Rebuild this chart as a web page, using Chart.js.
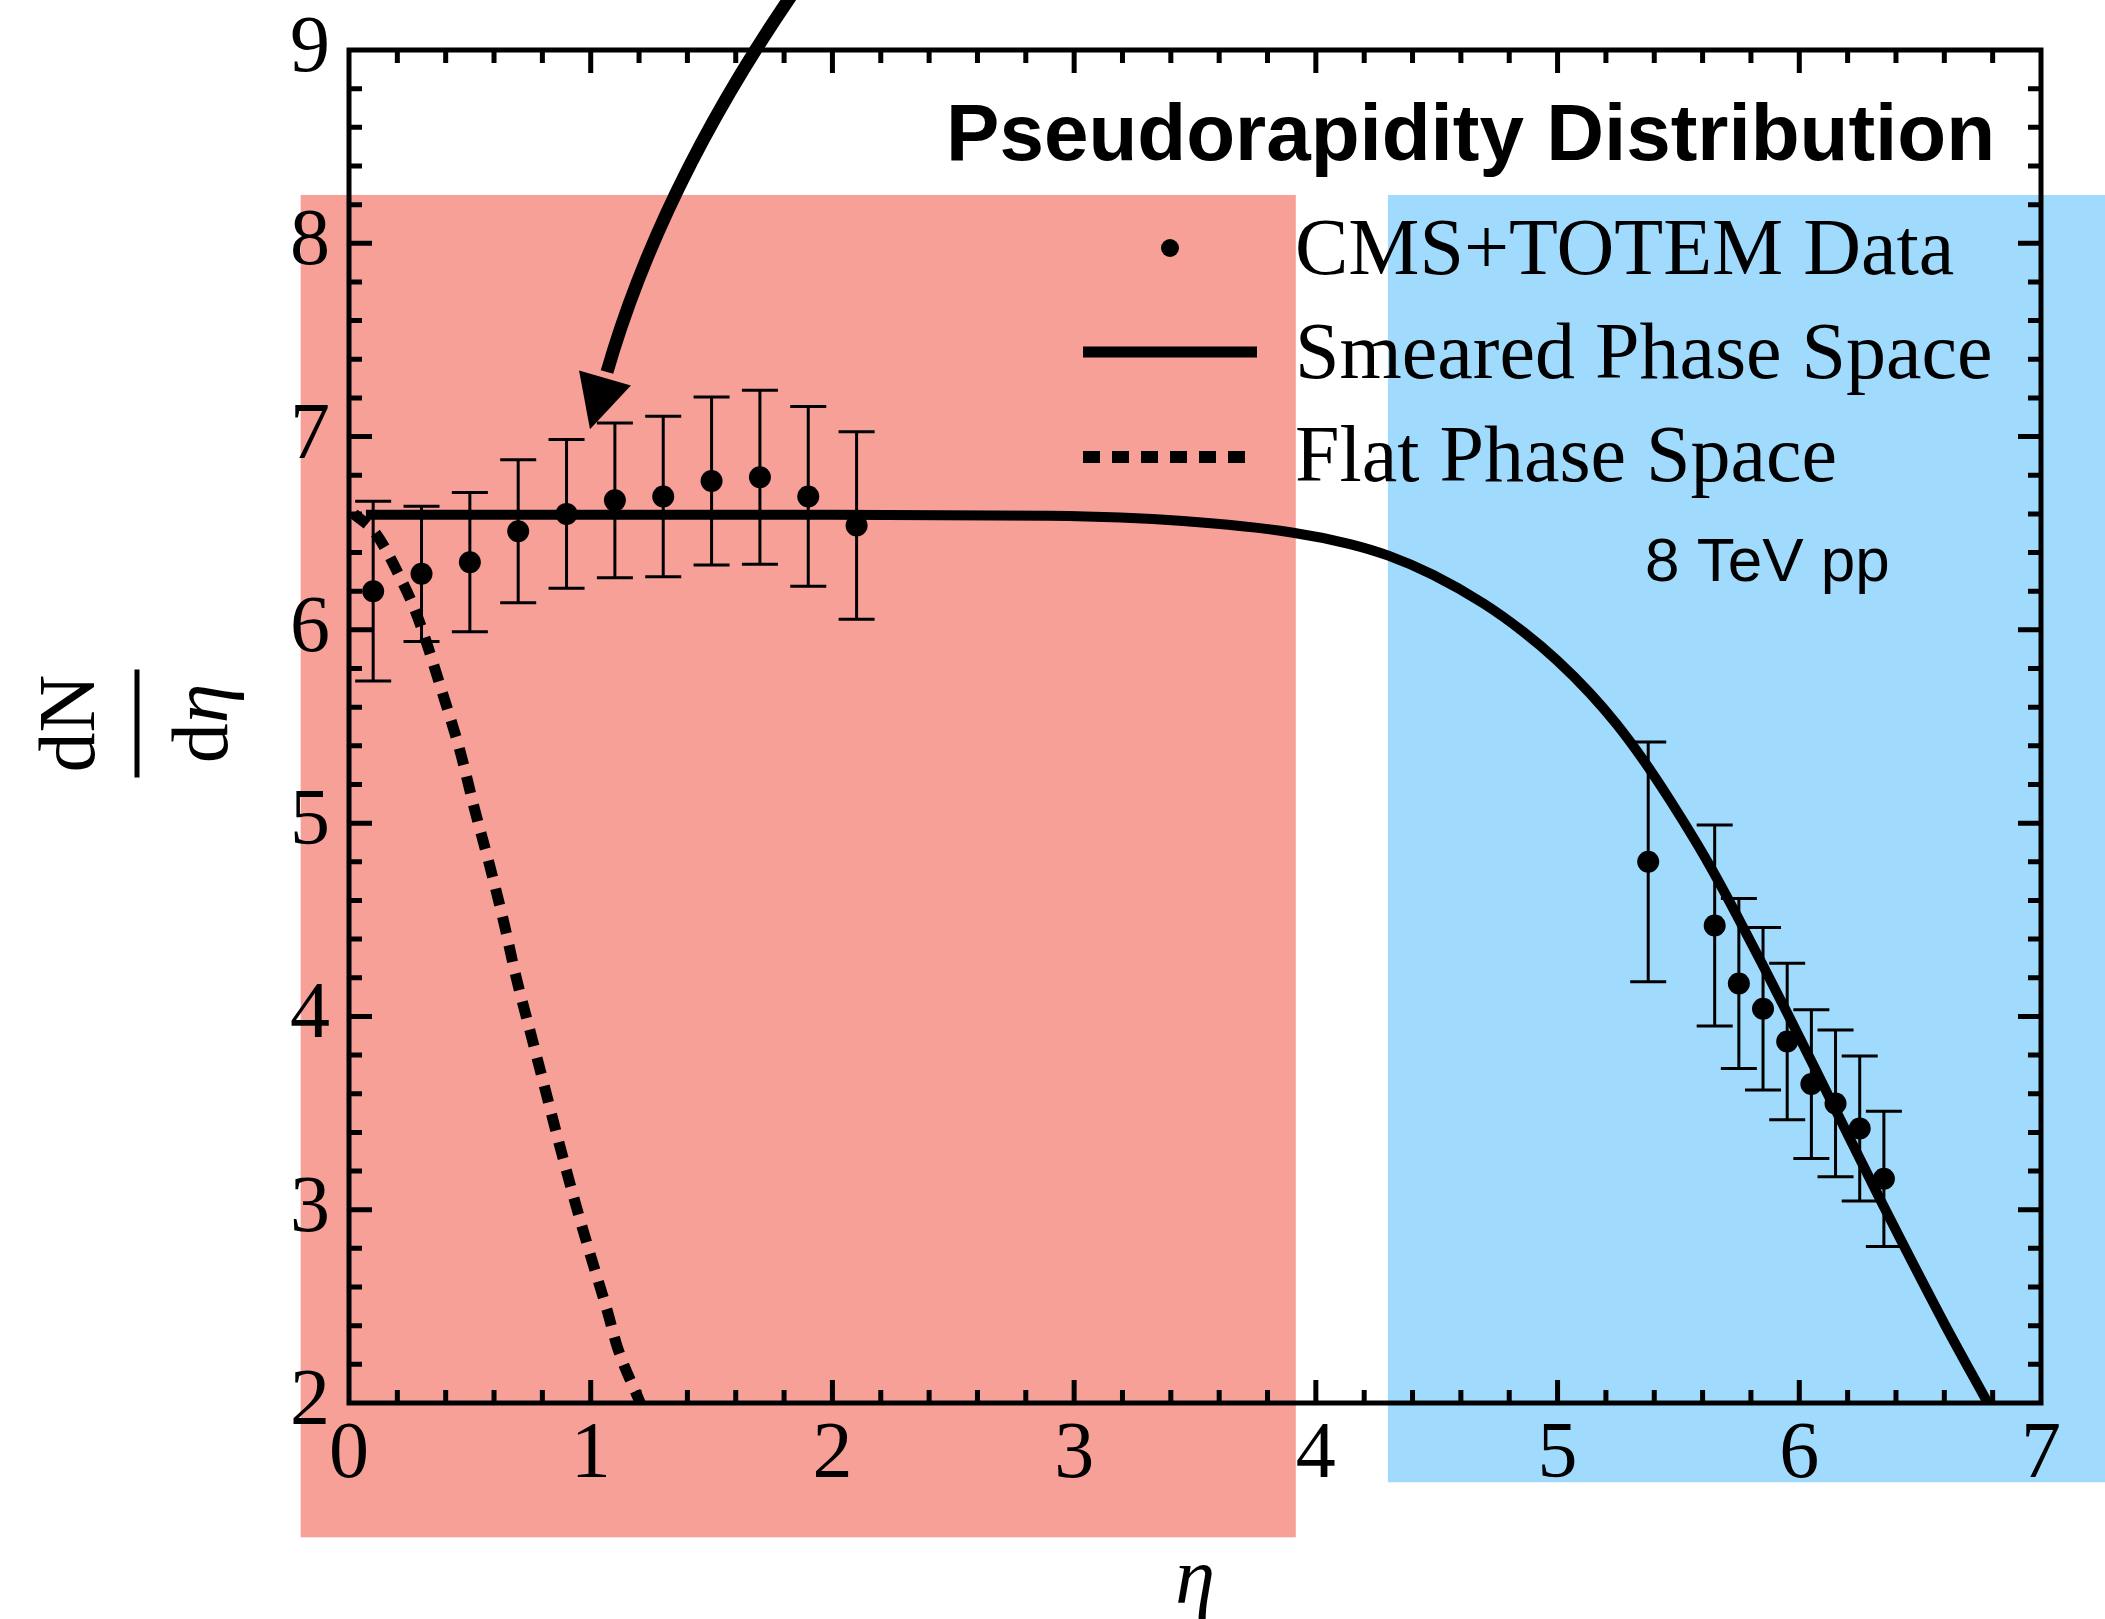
<!DOCTYPE html>
<html>
<head>
<meta charset="utf-8">
<script src="https://cdn.jsdelivr.net/npm/chart.js@4.4.0/dist/chart.umd.min.js"></script>
<style>
    html, body { margin: 0; padding: 0; background: #fff; }
    canvas { display: block; }
</style>
</head>
<body>
<canvas id="eta" width="2105" height="1619"></canvas>
<script>
// CMS+TOTEM data points (eta, dN/deta, error)
var etaData    = [0.1, 0.3, 0.5, 0.7, 0.9, 1.1, 1.3, 1.5, 1.7, 1.9, 2.1,
                  5.375, 5.65, 5.75, 5.85, 5.95, 6.05, 6.15, 6.25, 6.35];
var dndetaData = [6.20, 6.29, 6.35, 6.51, 6.60, 6.67, 6.69, 6.77, 6.79, 6.69, 6.54,
                  4.80, 4.47, 4.17, 4.04, 3.87, 3.65, 3.55, 3.42, 3.16];
var errData    = [0.465, 0.35, 0.36, 0.37, 0.385, 0.40, 0.415, 0.435, 0.45, 0.465, 0.485,
                  0.62, 0.52, 0.44, 0.42, 0.405, 0.385, 0.38, 0.375, 0.35];

// smeared phase space curve
var smearedEta = [0.07, 1, 2, 2.9, 3.45, 3.9, 4.141, 4.30, 4.486, 4.693, 4.858, 4.996, 5.134,
                  5.245, 5.355, 5.465, 5.575, 5.645, 5.74, 5.845, 5.95, 6.06, 6.155, 6.25,
                  6.34, 6.44, 6.6, 6.78];
var smearedVal = [6.595, 6.595, 6.595, 6.59, 6.563, 6.504, 6.444, 6.384, 6.284, 6.137, 5.99, 5.844, 5.672,
                  5.511, 5.326, 5.119, 4.897, 4.746, 4.527, 4.275, 4.018, 3.743, 3.504, 3.265,
                  3.04, 2.795, 2.411, 2.0];

// flat phase space curve
var flatEta = [0.02, 0.11, 0.21, 0.28, 0.39, 0.46, 0.52, 0.58, 0.64, 0.69, 0.75,
               0.81, 0.87, 0.935, 1.0, 1.07, 1.11, 1.205];
var flatVal = [6.60, 6.50, 6.275, 6.08, 5.66, 5.37, 5.07, 4.79, 4.49, 4.21, 3.92,
               3.63, 3.34, 3.04, 2.76, 2.47, 2.29, 2.0];

var xTicks = [0, 1, 2, 3, 4, 5, 6, 7];
var yTicks = [2, 3, 4, 5, 6, 7, 8, 9];

var serif = '"Liberation Serif", "Times New Roman", serif';
var sans = '"Liberation Sans", Arial, sans-serif';

// shaded eta ranges (in axis units)
var bands = [
    {from: -0.2, to: 3.917, top: 8.25, bottom: 1.305, color: 'rgb(247,160,152)'},
    {from: 4.298, to: 7.4, top: 8.25, bottom: 1.59, color: 'rgb(160,219,253)'}
];

function pairs(xs, ys) {
    return xs.map(function (v, i) { return {x: v, y: ys[i]}; });
}

var decor = {
    id: 'decor',
    beforeDraw: function (chart) {
        var ctx = chart.ctx, sx = chart.scales.x, sy = chart.scales.y;
        ctx.save();
        ctx.fillStyle = '#fff';
        ctx.fillRect(0, 0, chart.width, chart.height);
        bands.forEach(function (b) {
            var l = sx.getPixelForValue(b.from), r = sx.getPixelForValue(b.to);
            var t = sy.getPixelForValue(b.top), btm = sy.getPixelForValue(b.bottom);
            ctx.fillStyle = b.color;
            ctx.fillRect(l, t, r - l, btm - t);
        });
        ctx.restore();
    },
    afterDatasetsDraw: function (chart) {
        var ctx = chart.ctx, sx = chart.scales.x, sy = chart.scales.y;
        var a = chart.chartArea;
        ctx.save();
        ctx.strokeStyle = '#000';
        ctx.fillStyle = '#000';

        /*error bars*/
        ctx.lineWidth = 3;
        etaData.forEach(function (e, i) {
            var px = sx.getPixelForValue(e);
            var hi = sy.getPixelForValue(dndetaData[i] + errData[i]);
            var lo = sy.getPixelForValue(dndetaData[i] - errData[i]);
            ctx.beginPath();
            ctx.moveTo(px, hi); ctx.lineTo(px, lo);
            ctx.moveTo(px - 18, hi); ctx.lineTo(px + 18, hi);
            ctx.moveTo(px - 18, lo); ctx.lineTo(px + 18, lo);
            ctx.stroke();
        });

        /*frame*/
        ctx.lineWidth = 5;
        ctx.strokeRect(a.left, a.top, a.right - a.left, a.bottom - a.top);

        /*inward ticks*/
        ctx.lineWidth = 5;
        ctx.beginPath();
        sx.ticks.forEach(function (t) {
            if (t.value <= sx.min || t.value >= sx.max) return;
            var len = xTicks.indexOf(t.value) >= 0 ? 23 : 13;
            var p = sx.getPixelForValue(t.value);
            ctx.moveTo(p, a.bottom); ctx.lineTo(p, a.bottom - len);
            ctx.moveTo(p, a.top); ctx.lineTo(p, a.top + len);
        });
        sy.ticks.forEach(function (t) {
            if (t.value <= sy.min || t.value >= sy.max) return;
            var len = yTicks.indexOf(t.value) >= 0 ? 23 : 13;
            var p = sy.getPixelForValue(t.value);
            ctx.moveTo(a.left, p); ctx.lineTo(a.left + len, p);
            ctx.moveTo(a.right, p); ctx.lineTo(a.right - len, p);
        });
        ctx.stroke();

        /*title and labels*/
        ctx.textBaseline = 'alphabetic';
        ctx.font = 'bold 80px ' + sans;
        ctx.textAlign = 'right';
        ctx.fillText('Pseudorapidity Distribution', a.right - 46, 160);

        ctx.font = '62px ' + sans;
        ctx.textAlign = 'left';
        ctx.fillText('8 TeV pp', 1645, 581);

        /*legend*/
        var ds = chart.data.datasets;
        var lx = 1083, tx = 1295;
        ctx.font = '80px ' + serif;
        ctx.beginPath();
        ctx.arc(1170, 248, 9, 0, Math.PI * 2);
        ctx.fill();
        ctx.fillText(ds[0].label, tx, 274);

        ctx.lineWidth = 11;
        ctx.beginPath();
        ctx.moveTo(lx, 352); ctx.lineTo(lx + 174, 352);
        ctx.stroke();
        ctx.fillText(ds[1].label, tx, 378);

        ctx.setLineDash(ds[2].borderDash);
        ctx.lineWidth = 12;
        ctx.beginPath();
        ctx.moveTo(lx, 457); ctx.lineTo(lx + 162, 457);
        ctx.stroke();
        ctx.setLineDash([]);
        ctx.fillText(ds[2].label, tx, 481);

        /*axis titles*/
        ctx.font = 'italic 80px ' + serif;
        ctx.textAlign = 'center';
        ctx.fillText('\u03b7', (a.left + a.right) / 2, 1603);

        ctx.save();
        ctx.translate(137, (a.top + a.bottom) / 2 - 3);
        ctx.rotate(-Math.PI / 2);
        ctx.font = '80px ' + serif;
        ctx.fillText('dN', 0, -43);
        ctx.lineWidth = 5;
        ctx.beginPath();
        ctx.moveTo(-54, 0); ctx.lineTo(54, 0);
        ctx.stroke();
        var wd = ctx.measureText('d').width;
        ctx.font = 'italic 80px ' + serif;
        var we = ctx.measureText('\u03b7').width;
        ctx.textAlign = 'left';
        ctx.fillText('\u03b7', -(wd + we) / 2 + wd, 90);
        ctx.font = '80px ' + serif;
        ctx.fillText('d', -(wd + we) / 2, 90);
        ctx.restore();

        /*arrow*/
        var p0 = [sx.getPixelForValue(1.874), sy.getPixelForValue(9.362)];
        var c = [sx.getPixelForValue(1.297), sy.getPixelForValue(8.328)];
        var p2 = [sx.getPixelForValue(1.059), sy.getPixelForValue(7.303)];
        var tip = [sx.getPixelForValue(0.997), sy.getPixelForValue(7.038)];
        ctx.lineWidth = 13;
        ctx.beginPath();
        ctx.moveTo(p0[0], p0[1]);
        ctx.quadraticCurveTo(c[0], c[1], p2[0] + 2, p2[1] - 6);
        ctx.stroke();
        var dx = tip[0] - p2[0], dy = tip[1] - p2[1];
        var dl = Math.sqrt(dx * dx + dy * dy);
        var nx = -dy / dl * 27, ny = dx / dl * 27;
        ctx.beginPath();
        ctx.moveTo(tip[0], tip[1]);
        ctx.lineTo(p2[0] + nx, p2[1] + ny);
        ctx.lineTo(p2[0] - nx, p2[1] - ny);
        ctx.closePath();
        ctx.fill();

        ctx.restore();
    }
};

var ctx = document.getElementById('eta').getContext('2d');
var chart_eta = new Chart(ctx, {
    type: 'scatter',
    data: {
        datasets: [{
            label: 'CMS+TOTEM Data',
            data: pairs(etaData, dndetaData),
            showLine: false,
            pointRadius: 11,
            pointBackgroundColor: '#000',
            pointBorderWidth: 0,
            order: 1
        }, {
            label: 'Smeared Phase Space',
            data: pairs(smearedEta, smearedVal),
            showLine: true,
            pointRadius: 0,
            borderColor: '#000',
            borderWidth: 10,
            cubicInterpolationMode: 'monotone',
            order: 2
        }, {
            label: 'Flat Phase Space',
            data: pairs(flatEta, flatVal),
            showLine: true,
            pointRadius: 0,
            borderColor: '#000',
            borderWidth: 11,
            borderDash: [17, 12],
            cubicInterpolationMode: 'monotone',
            order: 3
        }]
    },
    options: {
        responsive: false,
        animation: false,
        devicePixelRatio: 1,
        layout: {padding: {top: 50, right: 64, left: 0, bottom: 0}},
        plugins: {
            legend: {display: false},
            tooltip: {enabled: false}
        },
        scales: {
            x: {
                type: 'linear',
                position: 'bottom',
                min: 0,
                max: 7,
                grid: {display: false, drawTicks: false},
                border: {display: false},
                ticks: {
                    stepSize: 0.2,
                    maxTicksLimit: 100,
                    autoSkip: false,
                    maxRotation: 0,
                    padding: 5,
                    color: '#000',
                    font: {family: serif, size: 80},
                    callback: function (v) { return xTicks.indexOf(v) >= 0 ? String(v) : ''; }
                },
                afterFit: function (s) {
                    s.height = 216;
                    s.paddingLeft = 0; s.paddingRight = 0;
                    s.paddingTop = 0; s.paddingBottom = 0;
                }
            },
            y: {
                type: 'linear',
                position: 'left',
                min: 2,
                max: 9,
                grid: {display: false, drawTicks: false},
                border: {display: false},
                ticks: {
                    stepSize: 0.2,
                    maxTicksLimit: 100,
                    autoSkip: false,
                    padding: 19,
                    color: '#000',
                    font: {family: serif, size: 80},
                    callback: function (v) { return yTicks.indexOf(v) >= 0 ? String(v) : ''; }
                },
                afterFit: function (s) {
                    s.width = 349;
                    s.paddingLeft = 0; s.paddingRight = 0;
                    s.paddingTop = 0; s.paddingBottom = 0;
                }
            }
        }
    },
    plugins: [decor]
});
</script>
</body>
</html>
